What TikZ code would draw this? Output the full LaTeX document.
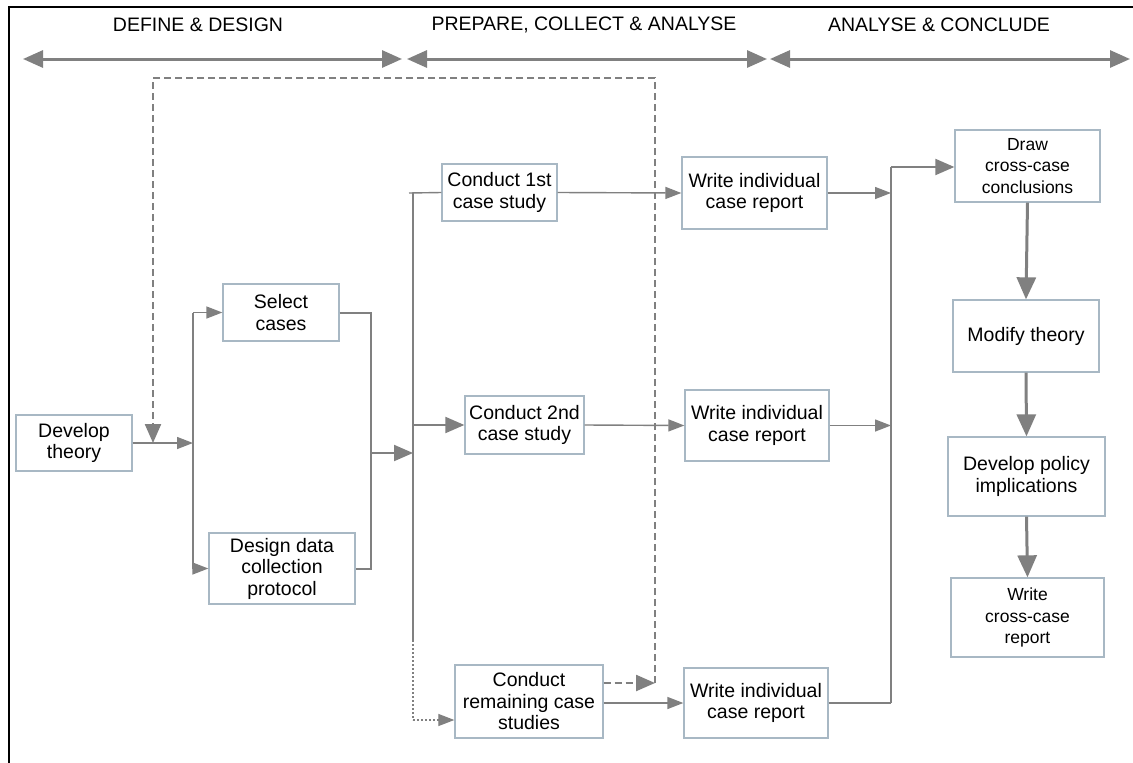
\documentclass[tikz,border=0pt]{standalone}
\usepackage{fontspec}
\setmainfont{Liberation Sans}
\usetikzlibrary{arrows.meta,calc}
\definecolor{conn}{RGB}{128,128,128}
\definecolor{edge}{RGB}{168,184,196}

\begin{document}
\begin{tikzpicture}[x=1pt,y=-1pt,
  box/.style={draw=edge,line width=1.3pt,fill=white,align=center,inner sep=0pt,
              font=\fontsize{19.5}{21.5}\selectfont},
  smallbox/.style={box,font=\fontsize{17.5}{21.5}\selectfont},
  phase/.style={font=\fontsize{19.5}{22}\selectfont,inner sep=0pt},
  cthin/.style={draw=conn,line width=1.4pt},
  cmed/.style={draw=conn,line width=2pt},
  cthick/.style={draw=conn,line width=3pt},
  tipS/.style={-{Triangle[length=16pt,width=12pt]}},
  tipM/.style={-{Triangle[length=19pt,width=16pt]}},
  tipL/.style={-{Triangle[length=22pt,width=19pt]}},
  span/.style={cthick,{Triangle[length=20pt,width=17pt]}-{Triangle[length=20pt,width=17pt]}},
  feedback/.style={draw=conn,line width=2.3pt,dash pattern=on 7pt off 4pt},
  dotline/.style={draw=conn,line width=1.2pt,dash pattern=on 2pt off 2pt},
]
\useasboundingbox (0,0) rectangle (1133,763);
\fill[white] (0,0) rectangle (1133,763);

% frame
\draw[line width=2.5pt,line cap=rect] (9,763) -- (9,7) -- (1133,7);

% phase headings and spans
\node[phase] (h1) at (198,25) {DEFINE \& DESIGN};
\node[phase] (h2) at (584,25) {PREPARE, COLLECT \& ANALYSE};
\node[phase] (h3) at (939,25) {ANALYSE \& CONCLUDE};
\coordinate (s1a) at (23,59);  \coordinate (s1b) at (402,59);
\coordinate (s2a) at (407,59); \coordinate (s2b) at (767,59);
\coordinate (s3a) at (770,59); \coordinate (s3b) at (1130,59);
\draw[span] (s1a) -- (s1b);
\draw[span] (s2a) -- (s2b);
\draw[span] (s3a) -- (s3b);

% boxes
\node[box,minimum width=116pt,minimum height=56pt] (dt) at (74,443) {Develop\\theory};
\node[box,minimum width=116pt,minimum height=57pt] (sc) at (281,312.5) {Select\\cases};
\node[box,minimum width=146pt,minimum height=71pt] (dd) at (282,568.5) {Design data\\collection\\protocol};
\node[box,minimum width=115pt,minimum height=57pt] (c1) at (499.5,192.5) {Conduct 1st\\case study};
\node[box,minimum width=119pt,minimum height=58pt] (c2) at (524.5,425) {Conduct 2nd\\case study};
\node[box,minimum width=148pt,minimum height=73pt] (c3) at (529,701.5) {Conduct\\remaining case\\studies};
\node[box,minimum width=145pt,minimum height=72pt] (w1) at (754.5,193) {Write individual\\case report};
\node[box,minimum width=144pt,minimum height=71pt] (w2) at (757,425.5) {Write individual\\case report};
\node[box,minimum width=144pt,minimum height=70pt] (w3) at (756,703) {Write individual\\case report};
\node[smallbox,minimum width=145pt,minimum height=72pt] (dc) at (1027.5,166) {Draw\\cross-case\\conclusions};
\node[box,minimum width=146pt,minimum height=72pt] (mt) at (1026,336) {Modify theory};
\node[box,minimum width=157pt,minimum height=79pt] (dp) at (1026.5,476.5) {Develop policy\\implications};
\node[smallbox,minimum width=153pt,minimum height=79pt] (wc) at (1027.5,617.5) {Write\\cross-case\\report};

% junction points
\coordinate (j1) at (193,443);
\coordinate (j2) at (371,453);
\coordinate (j3) at (413,453);
\coordinate (j3top) at (413,193);
\coordinate (j3stub) at (409,193);
\coordinate (j3end) at (413,640);
\coordinate (j3dot) at (413,720);
\coordinate (j4) at (891,703);
\coordinate (j4top) at (891,167);
\coordinate (fb) at (655,683);
\coordinate (fbtop) at (655,78);
\coordinate (fbleft) at (153,78);
\coordinate (fbend) at (153,443);

% define & design
\draw[cthin,tipS] (dt.east) -- (j1);
\draw[cthin] (j1 |- sc.west) -- (j1 |- dd.west);
\draw[cthin,tipS] (j1 |- sc.west) -- (sc.west);
\draw[cthin,tipS] (j1 |- dd.west) -- (dd.west);
\draw[cmed] (sc.east) -- (j2 |- sc.east) -- (j2 |- dd.east) -- (dd.east);
\draw[cmed,tipM] (j2) -- (j3);

% case studies
\draw[cthin] (j3top) -- (j3end);
\draw[cthin] (j3stub) -- (c1.west);
\draw[cmed,tipM] (j3 |- c2.west) -- (c2.west);
\draw[dotline] (j3end) -- (j3dot);
\draw[dotline,tipS] (j3dot) -- (j3dot -| c3.west);

% individual reports
\draw[cthin,tipS] (c1.east) -- (w1.west);
\draw[cthin,tipS] (c2.east) -- (w2.west);
\draw[cthin,tipS] (c3.east |- w3.west) -- (w3.west);

% feedback loop
\draw[feedback,tipM] (fb -| c3.east) -- (fb);
\draw[feedback,tipM] (fb) -- (fbtop) -- (fbleft) -- (fbend);

% cross-case analysis
\draw[cthin,tipS] (w1.east) -- (j4 |- w1.east);
\draw[cthin,tipS] (w2.east) -- (j4 |- w2.east);
\draw[cthin] (w3.east) -- (j4);
\draw[cmed] (j4) -- (j4top);
\draw[cmed,tipM] (j4top) -- (dc.west |- j4top);
\draw[cthick,tipL] (dc.south) -- (mt.north);
\draw[cthick,tipL] (mt.south) -- (dp.north);
\draw[cthick,tipL] (dp.south) -- (wc.north);
\end{tikzpicture}
\end{document}
